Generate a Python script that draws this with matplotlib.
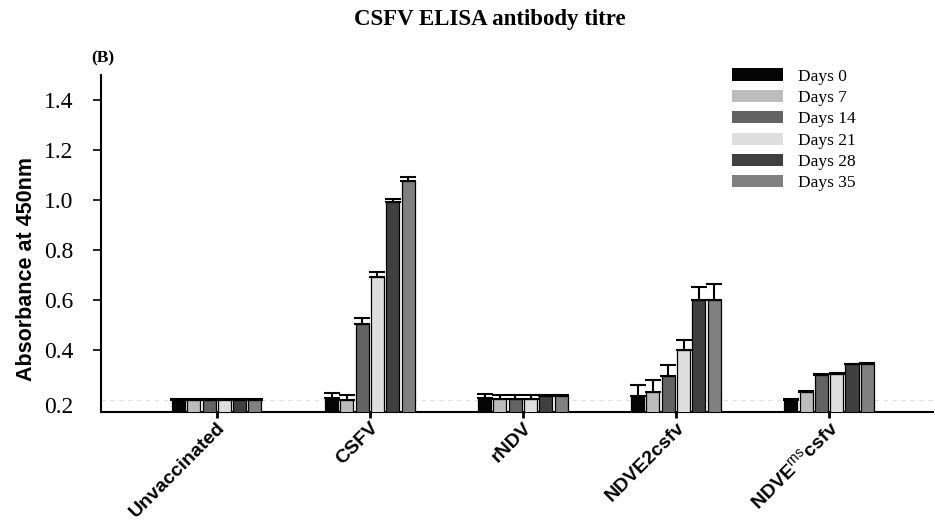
import matplotlib.pyplot as plt
import numpy as np
from matplotlib.patches import Patch

plt.rcParams['mathtext.fontset'] = 'custom'
plt.rcParams['mathtext.rm'] = 'Liberation Sans'

groups = ['Unvaccinated', 'CSFV', 'rNDV', 'NDVE2csfv', r'NDVE$^{\mathrm{rns}}$csfv']
days = ['Days 0', 'Days 7', 'Days 14', 'Days 21', 'Days 28', 'Days 35']
colors = ['#050505', '#bcbcbc', '#636363', '#dedede', '#3f3f3f', '#808080']

# mean absorbance per group, one list per sampling day
day0 = [0.200, 0.207, 0.207, 0.216, 0.200]
day7 = [0.200, 0.200, 0.203, 0.233, 0.231]
day14 = [0.200, 0.505, 0.203, 0.296, 0.300]
day21 = [0.200, 0.693, 0.203, 0.399, 0.305]
day28 = [0.200, 0.993, 0.217, 0.600, 0.343]
day35 = [0.200, 1.077, 0.217, 0.600, 0.345]

# upper error bars
err0 = [0.003, 0.020, 0.015, 0.043, 0.003]
err7 = [0.003, 0.020, 0.017, 0.045, 0.003]
err14 = [0.003, 0.024, 0.017, 0.043, 0.003]
err21 = [0.003, 0.020, 0.017, 0.043, 0.003]
err28 = [0.003, 0.010, 0.003, 0.053, 0.003]
err35 = [0.003, 0.014, 0.003, 0.064, 0.003]

cutoff = 0.2

means = [day0, day7, day14, day21, day28, day35]
errs = [err0, err7, err14, err21, err28, err35]

fig = plt.figure(figsize=(9.35, 5.2), dpi=100)
ax = fig.add_axes([0.108, 0.2077, 0.89, 0.648])

x = np.arange(len(groups))
step = 0.1
for i in range(len(days)):
    xs = x + (i - 2.5) * step
    ax.bar(xs, means[i], width=0.085, color=colors[i], edgecolor='black',
           linewidth=0.9, zorder=3)
    ax.errorbar(xs, means[i], yerr=[np.zeros(len(groups)), errs[i]], fmt='none',
                ecolor='black', elinewidth=1.5, capsize=6, capthick=1.5, zorder=4)

ax.axhline(cutoff, color='#e0e0e0', linestyle=(0, (4, 4)), linewidth=0.8, zorder=1)

ax.set_xlim(-0.756, 4.68)
ax.set_ylim(0.152, 1.5)

ax.spines['top'].set_visible(False)
ax.spines['right'].set_visible(False)
ax.spines['left'].set_linewidth(1.5)
ax.spines['bottom'].set_linewidth(1.5)

yt = [0.4, 0.6, 0.8, 1.0, 1.2, 1.4]
ax.set_yticks(yt, ['%.1f' % v for v in yt], fontfamily='Liberation Serif', fontsize=17)
ax.set_yticks([0.178], ['0.2'], minor=True, fontfamily='Liberation Serif', fontsize=17)
ax.tick_params(axis='y', which='major', length=6, width=1.2, pad=14)
ax.tick_params(axis='y', which='minor', length=0, pad=20)

ax.set_xticks(x)
ax.set_xticklabels(groups, rotation=45, ha='right', rotation_mode='anchor',
                   fontfamily='Liberation Sans', fontweight='bold', fontsize=14)
ax.tick_params(axis='x', length=4, width=2, pad=1)

fig.text(0.028, 0.483, 'Absorbance at 450nm', rotation=90, ha='center', va='center',
         fontfamily='Liberation Sans', fontweight='bold', fontsize=15.5)
fig.text(0.524, 0.963, 'CSFV ELISA antibody titre', ha='center', va='center',
         fontfamily='Liberation Serif', fontweight='bold', fontsize=16.5)
fig.text(0.098, 0.888, '(B)', ha='left', va='center',
         fontfamily='Liberation Serif', fontweight='bold', fontsize=12.5)

handles = [Patch(facecolor=c, edgecolor='none') for c in colors]
ax.legend(handles, days, loc='upper right', bbox_to_anchor=(0.926, 1.066), frameon=False,
          prop={'family': 'Liberation Serif', 'size': 12.5}, handlelength=2.9,
          handleheight=0.7, handletextpad=0.9, labelspacing=0.3)

fig.savefig('out.png', dpi=100)
